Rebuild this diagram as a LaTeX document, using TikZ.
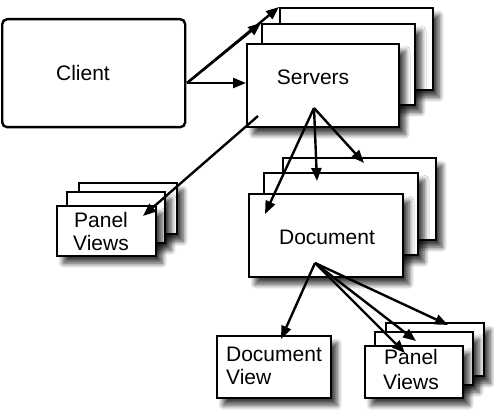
\documentclass[tikz,border=0pt]{standalone}
\usepackage{fontspec}
\setmainfont{Liberation Sans}
\usetikzlibrary{shadows.blur,arrows.meta}
\begin{document}
\begin{tikzpicture}[x=1pt,y=-1pt,
  box/.style={draw,line width=2.4pt,fill=white,anchor=north west,inner sep=0pt,
    blur shadow={shadow xshift=6pt,shadow yshift=-7pt,shadow blur radius=5pt,shadow blur steps=8,shadow opacity=75}},
  plainbox/.style={draw,line width=2.4pt,fill=white,anchor=north west,inner sep=0pt},
  lbl/.style={font=\fontsize{21}{23}\selectfont,align=center},
  arr/.style={line width=2.4pt,-{Triangle[length=13pt,width=10pt]}}]
\useasboundingbox (0,0) rectangle (494,414);

% Client
\node[plainbox,rounded corners=5pt,minimum width=183pt,minimum height=108pt] (client) at (1,18) {};
\node[lbl] (clientt) at (83,73) {Client};

% Servers stack
\node[box,minimum width=153pt,minimum height=82pt] (srv3) at (279,7) {};
\node[box,minimum width=153pt,minimum height=81pt] (srv2) at (261,23) {};
\node[box,minimum width=152pt,minimum height=83pt] (srv1) at (246,43) {};
\node[lbl] (srvt) at (313,77) {Servers};

% Panel views (left)
\node[box,minimum width=98pt,minimum height=51pt] (lpv3) at (78,182) {};
\node[box,minimum width=98pt,minimum height=51pt] (lpv2) at (66,191) {};
\node[box,minimum width=99pt,minimum height=50pt] (lpv1) at (56,205) {};
\node[lbl] (lpvt) at (101,231) {Panel\\Views};

% Document stack
\node[box,minimum width=153pt,minimum height=82pt] (doc3) at (282,157) {};
\node[box,minimum width=154pt,minimum height=82pt] (doc2) at (263,172) {};
\node[box,minimum width=154pt,minimum height=83pt] (doc1) at (248,193) {};
\node[lbl] (doct) at (327,237) {Document};

% Document view
\node[box,minimum width=114pt,minimum height=62pt] (dv) at (216,335) {};
\node[lbl,align=left] (dvt) at (274,366) {Document\\View};

% Panel views (right)
\node[box,minimum width=98pt,minimum height=53pt] (rpv3) at (385,322) {};
\node[box,minimum width=98pt,minimum height=53pt] (rpv2) at (374,331) {};
\node[box,minimum width=98pt,minimum height=52pt] (rpv1) at (364,345) {};
\node[lbl,font=\fontsize{21}{25}\selectfont] (rpvt) at (411,369) {Panel\\Views};

% connector points
\coordinate (cs) at (187,83);
\coordinate (ss) at (314,108);
\coordinate (sp) at (258,116);
\coordinate (ds) at (315,263);
\coordinate (t1) at (265,214);
\coordinate (t2) at (317,181);
\coordinate (t3) at (364,163);
\coordinate (tl) at (143,216);
\coordinate (tdv) at (281,339);
\coordinate (tp1) at (405,353);
\coordinate (tp2) at (416,341);
\coordinate (tp3) at (448,325);
\coordinate (tsf) at (246,83);

\draw[arr] (cs) -- (srv3.north west);
\draw[arr] (cs) -- (srv2.north west);
\draw[arr] (cs) -- (tsf);
\draw[arr] (sp) -- (tl);
\draw[arr] (ss) -- (t1);
\draw[arr] (ss) -- (t2);
\draw[arr] (ss) -- (t3);
\draw[arr] (ds) -- (tdv);
\draw[arr] (ds) -- (tp1);
\draw[arr] (ds) -- (tp2);
\draw[arr] (ds) -- (tp3);
\end{tikzpicture}
\end{document}
